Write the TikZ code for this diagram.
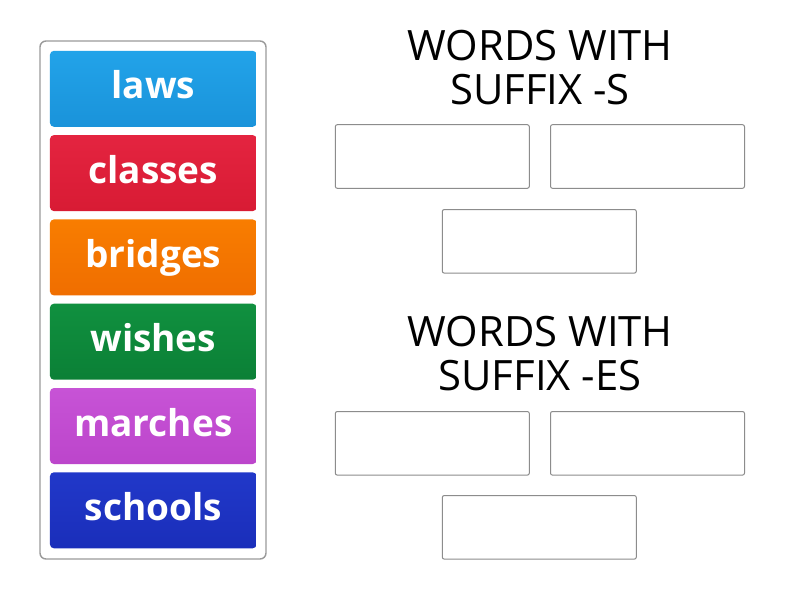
\documentclass[tikz,border=0pt]{standalone}
\usepackage{fontspec}
\setmainfont{Open Sans}
\definecolor{blueT}{HTML}{22A3E9}\definecolor{blueB}{HTML}{1A93DA}
\definecolor{redT}{HTML}{E42440}\definecolor{redB}{HTML}{D81B34}
\definecolor{oraT}{HTML}{F87D00}\definecolor{oraB}{HTML}{F06E00}
\definecolor{grnT}{HTML}{10903F}\definecolor{grnB}{HTML}{0B8036}
\definecolor{purT}{HTML}{C753D6}\definecolor{purB}{HTML}{BC45CB}
\definecolor{navT}{HTML}{2138C9}\definecolor{navB}{HTML}{1A2EBA}
\definecolor{frame}{HTML}{9A9A9A}
\definecolor{slotline}{HTML}{8C8C8C}
\tikzset{
  container/.style={draw=frame, line width=1.4pt, rounded corners=6pt, fill=white},
  tile/.style={rectangle, rounded corners=4pt, minimum width=206.7pt, minimum height=76pt,
    inner sep=0pt, text=white, font=\fontsize{37}{40}\selectfont\bfseries,
    text height=25pt, text depth=5pt},
  head/.style={anchor=base, inner sep=0pt, font=\fontsize{41.8}{44}\selectfont},
  slot/.style={rectangle, draw=slotline, line width=1pt, rounded corners=2pt,
    minimum width=194pt, minimum height=63.6pt, inner sep=0pt}
}
\begin{document}
\begin{tikzpicture}[x=1pt,y=-1pt]
\useasboundingbox[fill=white] (0,0) rectangle (800,600);
\node[container, minimum width=226pt, minimum height=518pt, inner sep=0pt] (box) at (153,300) {};
\node[tile, top color=blueT, bottom color=blueB] (laws) at (153.3,88.8) {laws};
\node[tile, top color=redT, bottom color=redB] (classes) at (153.3,173.1) {classes};
\node[tile, top color=oraT, bottom color=oraB] (bridges) at (153.3,257.4) {bridges};
\node[tile, top color=grnT, bottom color=grnB] (wishes) at (153.3,341.7) {wishes};
\node[tile, top color=purT, bottom color=purB] (marches) at (153.3,426.0) {marches};
\node[tile, top color=navT, bottom color=navB] (schools) at (153.3,510.3) {schools};
\node[head] (h1a) at (540,60.7) {WORDS WITH};
\node[head] (h1b) at (540,104) {SUFFIX -S};
\node[slot] (s1) at (432.3,156.5) {};
\node[slot] (s2) at (647.5,156.5) {};
\node[slot] (s3) at (539.3,241.3) {};
\node[head] (h2a) at (540,346.7) {WORDS WITH};
\node[head] (h2b) at (540,390.7) {SUFFIX -ES};
\node[slot] (e1) at (432.3,443.3) {};
\node[slot] (e2) at (647.5,443.3) {};
\node[slot] (e3) at (539.3,527.3) {};
\end{tikzpicture}
\end{document}
